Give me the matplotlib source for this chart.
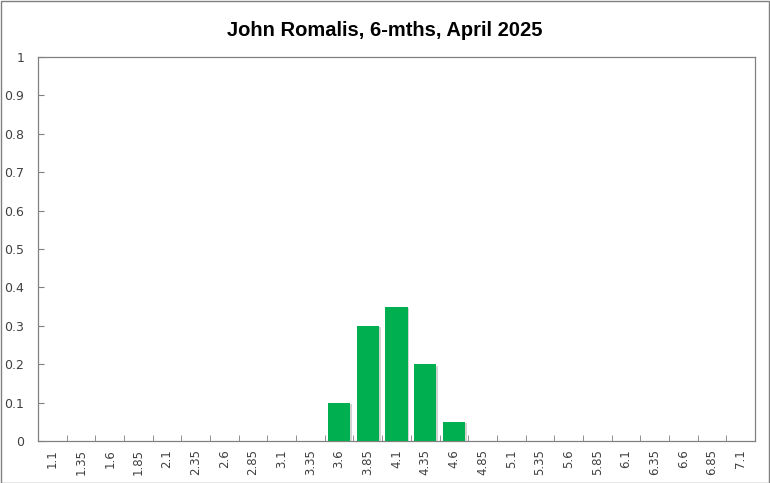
import numpy as np
import matplotlib.pyplot as plt
import matplotlib.patheffects as pe

categories = ["1.1", "1.35", "1.6", "1.85", "2.1", "2.35", "2.6", "2.85", "3.1", "3.35",
              "3.6", "3.85", "4.1", "4.35", "4.6", "4.85", "5.1", "5.35", "5.6", "5.85",
              "6.1", "6.35", "6.6", "6.85", "7.1"]
probs = [0, 0, 0, 0, 0, 0, 0, 0, 0, 0,
         0.1, 0.3, 0.35, 0.2, 0.05, 0, 0, 0, 0, 0,
         0, 0, 0, 0, 0]
y_ticks = [0, 0.1, 0.2, 0.3, 0.4, 0.5, 0.6, 0.7, 0.8, 0.9, 1]
y_labels = ["0", "0.1", "0.2", "0.3", "0.4", "0.5", "0.6", "0.7", "0.8", "0.9", "1"]

fig = plt.figure(figsize=(7.7, 4.83), dpi=100)
ax = fig.add_axes([38 / 770, 42 / 483, 717 / 770, 384 / 483])

x = np.arange(len(categories))
ax.bar(x, probs, width=0.77, color="#00B050", linewidth=0, zorder=3,
       path_effects=[pe.SimplePatchShadow(offset=(1.2, -1.2), shadow_rgbFace="#c8c8c8", alpha=0.8),
                     pe.Normal()])

ax.set_xlim(-0.5, len(categories) - 0.5)
ax.set_ylim(0, 1)
ax.set_xticks(x)
ax.set_xticklabels(categories, rotation=90, fontsize=8.5, color="#404040")
ax.set_xticks(np.arange(len(categories) + 1) - 0.5, minor=True)
ax.tick_params(axis="x", which="major", length=0, pad=6)
ax.tick_params(axis="x", which="minor", length=4, direction="in", color="#808080")
ax.set_yticks(y_ticks)
ax.set_yticklabels(y_labels, fontsize=9, color="#404040")
ax.tick_params(axis="y", length=4, direction="in", color="#808080", pad=10)
for s in ax.spines.values():
    s.set_color("#808080")
    s.set_linewidth(0.9)

fig.text(0.5, 1 - 31 / 483, "John Romalis, 6-mths, April 2025", ha="center", va="center",
         fontsize=14.5, fontweight="bold", family="Liberation Sans")

fig.patches.append(plt.Rectangle((0.001, 0.001), 0.998, 0.997, transform=fig.transFigure,
                                 fill=False, edgecolor="#808080", linewidth=1))

fig.savefig("out.png", dpi=100)
